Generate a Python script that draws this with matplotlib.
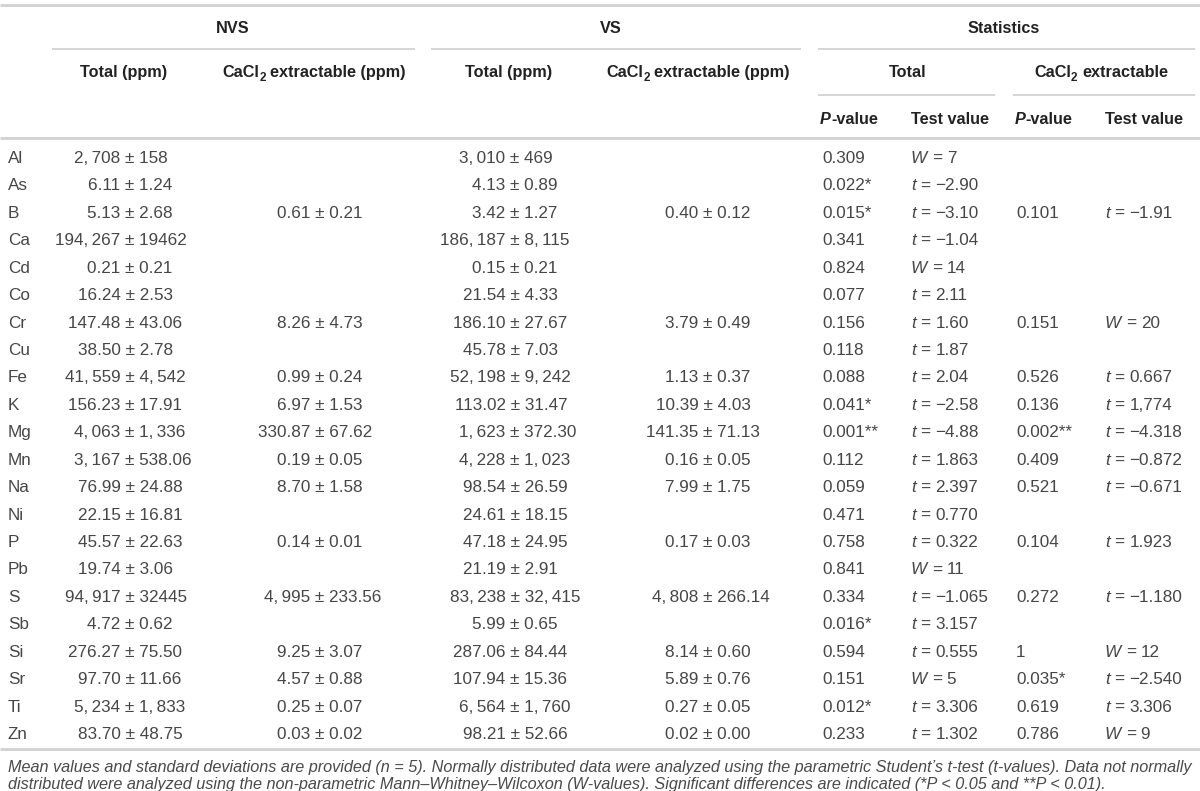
import matplotlib
matplotlib.use("Agg")
import matplotlib.pyplot as plt
from matplotlib.lines import Line2D

W, H = 1200, 791
plt.rcParams['font.family'] = ['Liberation Sans', 'DejaVu Sans']

TXT = '#464646'
HEAD = '#222222'
RULE = '#d2d2d2'
SIZE = 12.3
HSIZE = 11.7

elements = ["Al", "As", "B", "Ca", "Cd", "Co", "Cr", "Cu", "Fe", "K", "Mg",
            "Mn", "Na", "Ni", "P", "Pb", "S", "Sb", "Si", "Sr", "Ti", "Zn"]

T = "\u2009"  # thin space used in the thousands separator
nvs_total_mean = ["2," + T + "708", "6.11", "5.13", "194," + T + "267", "0.21", "16.24",
                  "147.48", "38.50", "41," + T + "559", "156.23", "4," + T + "063",
                  "3," + T + "167", "76.99", "22.15", "45.57", "19.74", "94," + T + "917",
                  "4.72", "276.27", "97.70", "5," + T + "234", "83.70"]
nvs_total_sd = ["158", "1.24", "2.68", "19462", "0.21", "2.53", "43.06", "2.78",
                "4," + T + "542", "17.91", "1," + T + "336", "538.06", "24.88", "16.81",
                "22.63", "3.06", "32445", "0.62", "75.50", "11.66", "1," + T + "833", "48.75"]

nvs_cacl2_mean = ["", "", "0.61", "", "", "", "8.26", "", "0.99", "6.97", "330.87",
                  "0.19", "8.70", "", "0.14", "", "4," + T + "995", "", "9.25", "4.57",
                  "0.25", "0.03"]
nvs_cacl2_sd = ["", "", "0.21", "", "", "", "4.73", "", "0.24", "1.53", "67.62",
                "0.05", "1.58", "", "0.01", "", "233.56", "", "3.07", "0.88",
                "0.07", "0.02"]

vs_total_mean = ["3," + T + "010", "4.13", "3.42", "186," + T + "187", "0.15", "21.54",
                 "186.10", "45.78", "52," + T + "198", "113.02", "1," + T + "623",
                 "4," + T + "228", "98.54", "24.61", "47.18", "21.19", "83," + T + "238",
                 "5.99", "287.06", "107.94", "6," + T + "564", "98.21"]
vs_total_sd = ["469", "0.89", "1.27", "8," + T + "115", "0.21", "4.33", "27.67", "7.03",
               "9," + T + "242", "31.47", "372.30", "1," + T + "023", "26.59", "18.15",
               "24.95", "2.91", "32," + T + "415", "0.65", "84.44", "15.36",
               "1," + T + "760", "52.66"]

vs_cacl2_mean = ["", "", "0.40", "", "", "", "3.79", "", "1.13", "10.39", "141.35",
                 "0.16", "7.99", "", "0.17", "", "4," + T + "808", "", "8.14", "5.89",
                 "0.27", "0.02"]
vs_cacl2_sd = ["", "", "0.12", "", "", "", "0.49", "", "0.37", "4.03", "71.13",
               "0.05", "1.75", "", "0.03", "", "266.14", "", "0.60", "0.76",
               "0.05", "0.00"]

total_p = ["0.309", "0.022*", "0.015*", "0.341", "0.824", "0.077", "0.156", "0.118",
           "0.088", "0.041*", "0.001**", "0.112", "0.059", "0.471", "0.758", "0.841",
           "0.334", "0.016*", "0.594", "0.151", "0.012*", "0.233"]
total_stat = ["W", "t", "t", "t", "W", "t", "t", "t", "t", "t", "t",
              "t", "t", "t", "t", "W", "t", "t", "t", "W", "t", "t"]
total_val = ["7", "\u22122.90", "\u22123.10", "\u22121.04", "14", "2.11", "1.60", "1.87",
             "2.04", "\u22122.58", "\u22124.88", "1.863", "2.397", "0.770", "0.322", "11",
             "\u22121.065", "3.157", "0.555", "5", "3.306", "1.302"]

cacl2_p = ["", "", "0.101", "", "", "", "0.151", "", "0.526", "0.136", "0.002**",
           "0.409", "0.521", "", "0.104", "", "0.272", "", "1", "0.035*", "0.619", "0.786"]
cacl2_stat = ["", "", "t", "", "", "", "W", "", "t", "t", "t",
              "t", "t", "", "t", "", "t", "", "W", "t", "t", "W"]
cacl2_val = ["", "", "\u22121.91", "", "", "", "20", "", "0.667", "1,774", "\u22124.318",
             "\u22120.872", "\u22120.671", "", "1.923", "", "\u22121.180", "", "12",
             "\u22122.540", "3.306", "9"]

footnote = [
    "Mean values and standard deviations are provided (n = 5). Normally distributed data were analyzed "
    "using the parametric Student\u2019s t-test (t-values). Data not normally",
    "distributed were analyzed using the non-parametric Mann\u2013Whitney\u2013Wilcoxon (W-values). "
    "Significant differences are indicated (*P < 0.05 and **P < 0.01).",
]

fig = plt.figure(figsize=(W / 100, H / 100), dpi=100)
renderer = fig.canvas.get_renderer()
GAP = (" ", {})


def fx(x):
    return x / W


def fy(y):
    return 1 - y / H


def hline(x0, x1, y, lw=1.3):
    fig.add_artist(Line2D([fx(x0), fx(x1)], [fy(y), fy(y)], transform=fig.transFigure,
                          color=RULE, lw=lw, solid_capstyle='butt'))


def space(size):
    return 0.278 * size * 100 / 72


def text_width(s, **kw):
    t = fig.text(0, 0, s, **kw)
    w = t.get_window_extent(renderer).width
    t.remove()
    return w


PM_HALF = text_width("\u00b1", fontsize=SIZE) / 2


def parts_text(x, y, parts, ha='left', size=SIZE, color=TXT, weight='normal'):
    # parts: list of (string, extra kwargs); a string " " is a plain gap
    items = []
    for s, kw in parts:
        if s == " ":
            items.append((None, space(size)))
            continue
        kk = dict(fontsize=size, color=color, weight=weight, va='baseline', ha='left')
        kk.update(kw)
        dy = kk.pop('dy', 0)
        t = fig.text(0, fy(y + dy), s, **kk)
        items.append((t, t.get_window_extent(renderer).width))
    total = sum(w for _, w in items)
    cur = {'left': x, 'right': x - total, 'center': x - total / 2}[ha]
    for t, w in items:
        if t is not None:
            t.set_x(fx(cur))
        cur += w


def pm_cell(xpm, y, mean, sd):
    # one string, placed so that the ± sits on xpm
    if not mean:
        return
    lead = text_width(mean + " \u00b1", fontsize=SIZE) - PM_HALF
    fig.text(fx(xpm - lead), fy(y), mean + " \u00b1 " + sd, fontsize=SIZE, color=TXT,
             ha='left', va='baseline')


def test_cell(x, y, letter, val):
    if not letter:
        return
    parts_text(x, y, [(letter, {'style': 'italic'}), GAP, ("=", {}), GAP, (val, {})])


# rules
hline(0, 1200, 5, lw=2)
hline(52, 415, 49)
hline(431, 801, 49)
hline(818, 1195, 49)
hline(818, 995, 95)
hline(1013, 1195, 95)
hline(0, 1200, 138, lw=2)
hline(0, 1200, 749, lw=2)

# header rows
hb = 6
for label, cx in [("NVS", 233), ("VS", 611), ("Statistics", 1004)]:
    parts_text(cx, 27 + hb, [(label, {})], ha='center', size=HSIZE, color=HEAD, weight='bold')

sub2 = ("2", {'fontsize': HSIZE * 0.72, 'dy': 4})
cacl2_head = [("CaCl", {}), sub2, GAP, ("extractable (ppm)", {})]
for parts, cx in [([("Total (ppm)", {})], 124), (cacl2_head, 314),
                  ([("Total (ppm)", {})], 509), (cacl2_head, 698),
                  ([("Total", {})], 908),
                  ([("CaCl", {}), sub2, GAP, ("extractable", {})], 1101)]:
    parts_text(cx, 71 + hb, parts, ha='center', size=HSIZE, color=HEAD, weight='bold')

for x in (820, 1015):
    parts_text(x, 118 + hb, [("P", {'style': 'italic'}), ("-value", {})],
               size=HSIZE, color=HEAD, weight='bold')
for x in (911, 1105):
    parts_text(x, 118 + hb, [("Test value", {})], size=HSIZE, color=HEAD, weight='bold')

# body rows
ROW0, DY = 157, 27.43
for i, el in enumerate(elements):
    y = ROW0 + i * DY + 6
    fig.text(fx(8), fy(y), el, fontsize=SIZE, color=TXT, ha='left', va='baseline')
    pm_cell(130, y, nvs_total_mean[i], nvs_total_sd[i])
    pm_cell(320, y, nvs_cacl2_mean[i], nvs_cacl2_sd[i])
    pm_cell(515, y, vs_total_mean[i], vs_total_sd[i])
    pm_cell(708, y, vs_cacl2_mean[i], vs_cacl2_sd[i])
    fig.text(fx(822), fy(y), total_p[i], fontsize=SIZE, color=TXT, ha='left', va='baseline')
    test_cell(911, y, total_stat[i], total_val[i])
    if cacl2_p[i]:
        fig.text(fx(1016), fy(y), cacl2_p[i], fontsize=SIZE, color=TXT, ha='left', va='baseline')
    test_cell(1105, y, cacl2_stat[i], cacl2_val[i])

# footnote, scaled so that the first line fills the width
fsize = 10 * (1187 / text_width(footnote[0], fontsize=10, style='italic'))
for j, line in enumerate(footnote):
    fig.text(fx(8), fy(772 + j * 17), line, fontsize=fsize, style='italic', color='#4a4a4a',
             ha='left', va='baseline')

fig.savefig("out.png", dpi=100)
